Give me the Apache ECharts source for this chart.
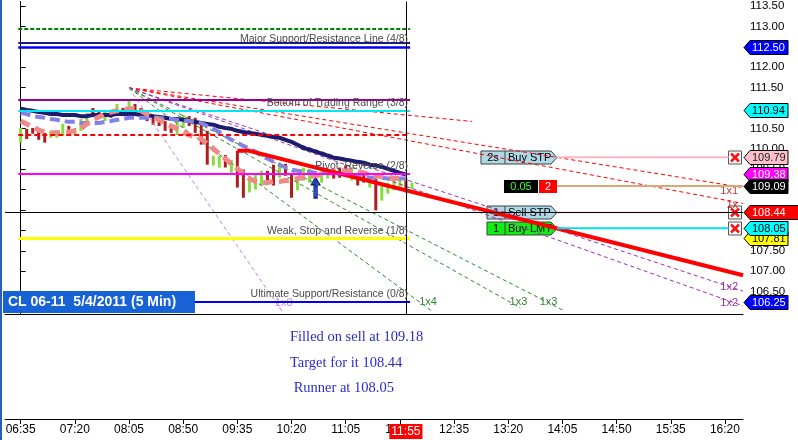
<!DOCTYPE html>
<html>
<head>
<meta charset="utf-8">
<script src="https://cdn.jsdelivr.net/npm/echarts@6/dist/echarts.min.js"></script>
<style>
html,body{margin:0;padding:0;background:#ffffff;}
#chart{width:798px;height:440px;}
</style>
</head>
<body>
<div id="chart"></div>
<script>
// ---------------- data ----------------
const timeLabels = ['06:35','07:20','08:05','08:50','09:35','10:20','11:05','11:50','12:35','13:20','14:05','14:50','15:35','16:20'];
const tickIndex = [0,9,18,27,36,45,54,63,72,81,90,99,108,117];
const currentIndex = 64;
const currentTime = '11:55';
const yTickValues = [106.5,107,107.5,108,108.5,109,109.5,110,110.5,111,111.5,112,112.5,113,113.5];

const barHigh = [110.51,110.49,110.51,110.44,110.39,110.44,110.46,110.61,110.56,110.51,
110.73,110.88,111.00,110.93,110.93,110.93,111.10,111.00,111.17,111.10,
111.00,110.93,110.80,110.76,110.68,110.59,110.71,110.83,110.80,110.76,
110.63,110.44,109.83,109.83,109.85,109.73,109.95,109.49,109.24,109.41,
109.46,109.46,109.61,109.66,109.63,109.39,109.34,109.54,109.51,109.39,
109.46,109.51,109.51,109.54,109.59,109.54,109.39,109.41,109.29,109.27,
109.10,109.17,109.27,109.29,109.27,109.17];
const barLow = [110.15,110.24,110.37,110.22,110.15,110.27,110.27,110.32,110.37,110.34,
110.44,110.56,110.80,110.73,110.68,110.76,110.85,110.80,110.93,110.90,
110.80,110.68,110.59,110.56,110.44,110.39,110.34,110.51,110.56,110.39,
110.10,109.61,109.59,109.54,109.54,109.41,109.05,108.80,108.93,109.00,
109.10,109.22,109.10,109.29,109.34,108.80,108.98,109.22,109.17,109.05,
109.17,109.27,109.27,109.29,109.39,109.22,109.10,109.17,109.05,108.49,
108.73,108.90,108.98,109.05,108.93,109.02];
const barUp = [1,0,0,0,0,1,1,1,0,1,
1,1,0,0,1,0,1,0,1,0,
0,0,0,0,0,0,1,1,0,0,
0,0,1,1,0,1,0,0,1,1,
1,0,0,1,0,0,1,1,1,1,
1,1,0,0,0,1,0,0,1,0,
1,1,1,1,0,1];

const maNavy = [110.98,110.95,110.93,110.90,110.88,110.85,110.85,110.83,110.83,110.83,
110.80,110.80,110.83,110.83,110.83,110.83,110.85,110.85,110.85,110.85,
110.83,110.83,110.80,110.78,110.76,110.73,110.73,110.71,110.68,110.66,
110.63,110.61,110.59,110.54,110.51,110.49,110.44,110.41,110.39,110.37,
110.34,110.32,110.29,110.27,110.22,110.17,110.10,110.02,109.98,109.93,
109.88,109.83,109.78,109.76,109.73,109.71,109.68,109.66,109.61,109.59,
109.56,109.51,109.46,109.41,109.37];
const maLavender = [110.88,110.85,110.80,110.78,110.76,110.73,110.71,110.68,110.66,110.66,
110.63,110.63,110.63,110.63,110.66,110.68,110.71,110.73,110.76,110.76,
110.76,110.76,110.76,110.76,110.73,110.73,110.71,110.68,110.68,110.66,
110.63,110.56,110.49,110.41,110.32,110.22,110.15,110.07,110.00,109.93,
109.83,109.76,109.68,109.61,109.54,109.49,109.46,109.44,109.44,109.41,
109.41,109.41,109.39,109.39,109.37,109.34,109.34,109.32,109.29,109.29,
109.29,109.27,109.27,109.27,109.27];
const maSalmon = [110.68,110.61,110.54,110.46,110.41,110.39,110.39,110.39,110.41,110.44,
110.49,110.61,110.71,110.78,110.85,110.90,110.93,110.95,110.98,110.98,
110.93,110.85,110.78,110.71,110.63,110.56,110.49,110.41,110.34,110.29,
110.24,110.12,110.00,109.88,109.76,109.63,109.51,109.39,109.27,109.20,
109.17,109.17,109.20,109.20,109.22,109.24,109.27,109.29,109.32,109.34,
109.37,109.41,109.44,109.46,109.46,109.46,109.44,109.41,109.37,109.34,
109.32,109.29,109.27,109.27,109.27];

const trendIndex = [36, 38, 120];
const trendPrice = [109.95, 109.95, 106.90];

const levelPrices = [112.94, 112.60, 112.50, 111.19, 110.94, 110.34, 109.38, 107.81, 106.25];
const levelNames = ['', '', 'Major Support/Resistance Line (4/8)', '', 'Bottom of Trading Range (3/8)', '', 'Pivot, Reverse (2/8)', 'Weak, Stop and Reverse (1/8)', 'Ultimate Support/Resistance (0/8)'];

const fanOrigin = [18, 111.49];
const fanEndIndex = [120, 120, 75, 120, 120, 68.5, 83, 90, 43.5];
const fanEndPrice = [109.05, 108.66, 110.67, 106.51, 106.15, 106.00, 106.10, 106.05, 106.00];
const fanNames = ['1x1', '1x', '', '1x2', '1x2', '1x4', '1x3', '1x3', '1x8'];

const orderPrices = [109.79, 109.09, 108.44, 108.05];
const orderQty = ['2s', '0.05', '1', '1'];
const orderType = ['Buy STP', '2', 'Sell STP', 'Buy LMT'];
const stopPrices = [109.79, 108.44, 108.05];
const axisTagPrices = [112.50, 110.94, 109.79, 109.38, 109.09, 108.44, 107.81, 108.05, 106.25];
const signalIndex = [49];
const signalPrice = [109.05];
const crossPrice = 108.44;
const symbolTitle = 'CL 06-11  5/4/2011 (5 Min)';
const notes = ['Filled on sell at 109.18', 'Target for it 108.44', ' Runner at 108.05'];

// ---------------- layout / style ----------------
const Y_MIN = 105.95, Y_MAX = 113.61, X_MIN = -2.6, X_MAX = 120;
const LEVEL_X0 = -0.4, LEVEL_X1 = 64.7, TAG_X = 89.1, STOP_X = 117.6;
const SANS = "'Liberation Sans', Arial, sans-serif";
const NARROW = "'Liberation Sans Narrow', 'Arial Narrow', 'Liberation Sans', sans-serif";
const SERIF = "'Liberation Serif', 'Times New Roman', serif";

const levelStyle = [
  {color:'#008000', width:2, type:[4,2]},
  {color:'#1a1a80', width:2, type:'solid'},
  {color:'#0000ff', width:2.5, type:'solid'},
  {color:'#990099', width:2, type:'solid'},
  {color:'#00e8f0', width:2, type:'solid'},
  {color:'#ff0000', width:2, type:[5,3]},
  {color:'#ff00ff', width:2, type:'solid'},
  {color:'#ffff00', width:3, type:'solid'},
  {color:'#0000ff', width:2, type:'solid'}
];
const fanColor = ['#ff0000','#ff0000','#ff0000','#9b30b0','#9b30b0','#2e8b2e','#2e8b2e','#2e8b2e','#c084e0'];
const fanTextColor = ['#b00000','#b00000','#b00000','#800080','#800080','#006400','#006400','#006400','#b070d0'];
const fanLabelOffset = [[-5,3],[-5,2],[0,0],[-5,-4],[-5,-3],[4,-10],[7,-6],[-5,-8],[10,-9]];
const axisTagStyle = [
  {fill:'#0000ff', text:'#ffffff', w:38},
  {fill:'#00ffff', text:'#000000', w:38},
  {fill:'#ffc0cb', text:'#202020', w:38},
  {fill:'#ff00ff', text:'#ffffff', w:38},
  {fill:'#000000', text:'#ffffff', w:38},
  {fill:'#ff0000', text:'#ffffff', w:49},
  {fill:'#ffff00', text:'#000000', w:38},
  {fill:'#00ffff', text:'#000000', w:38},
  {fill:'#0000ff', text:'#ffffff', w:38}
];
const orderLineStyle = [
  {color:'#ffb6c1', width:2},
  {color:'#d9a877', width:2},
  {color:'#ffb0b8', width:1.5},
  {color:'#00e0f0', width:2}
];

function txt(text, x, y, fill, font, align) {
  return {type:'text', style:{text:text, x:x, y:y, fill:fill, font:font,
    textAlign:align || 'left', align:align || 'left', textVerticalAlign:'middle', verticalAlign:'middle'}};
}

const series = [];

// level lines + crosshair
series.push({
  type:'line', xAxisIndex:0, yAxisIndex:0, data:[], silent:true,
  markLine:{
    silent:true, symbol:['none','none'], animation:false,
    data: levelPrices.map((p,k)=>[
      {coord:[LEVEL_X0, p], lineStyle:levelStyle[k],
       label:{show: !!levelNames[k], formatter: levelNames[k], position:'insideEndTop',
              color:'#4a4a4a', fontSize:10.5, fontFamily:SANS, distance:2}},
      {coord:[LEVEL_X1, p]}
    ]).concat([
      {yAxis: crossPrice, lineStyle:{color:'#000', width:1, type:'solid'}, label:{show:false}},
      {xAxis: currentIndex, lineStyle:{color:'#000', width:1, type:'solid'}, label:{show:false}}
    ])
  }
});

// fan lines
fanEndIndex.forEach((xe,k)=>{
  series.push({
    type:'line', xAxisIndex:0, yAxisIndex:0, symbol:'none', silent:true,
    data:[fanOrigin, [xe, fanEndPrice[k]]],
    lineStyle:{color:fanColor[k], width:1, type:[4,3]}
  });
});
series.push({
  type:'scatter', xAxisIndex:0, yAxisIndex:0, silent:true, symbol:'circle', symbolSize:1,
  itemStyle:{color:'transparent'},
  data: fanEndIndex.map((xe,k)=>({
    value:[xe, fanEndPrice[k]],
    label:{show: !!fanNames[k], formatter: fanNames[k], position:'inside', align:'right',
           verticalAlign:'middle', offset: fanLabelOffset[k], color: fanTextColor[k], fontSize:11, fontFamily:SANS}
  }))
});

// price bars
series.push({
  type:'custom', xAxisIndex:0, yAxisIndex:0, silent:true,
  data: barHigh.map((h,i)=>[i, h, barLow[i], barUp[i]]),
  renderItem:(params, api)=>{
    const top = api.coord([api.value(0), api.value(1)]);
    const bot = api.coord([api.value(0), api.value(2)]);
    return {type:'rect', shape:{x: top[0]-1.5, y: top[1], width:3, height: Math.max(1, bot[1]-top[1])},
      style:{fill: api.value(3) ? '#86dc3c' : '#b01c1c'}};
  }
});

// moving averages
series.push({type:'line', symbol:'none', silent:true, data: maNavy.map((v,i)=>[i,v]),
  lineStyle:{color:'#1c1c6e', width:4}});
series.push({type:'line', symbol:'none', silent:true, data: maLavender.map((v,i)=>[i,v]),
  lineStyle:{color:'#8282e6', width:4, type:[10,5]}});
series.push({type:'line', symbol:'none', silent:true, data: maSalmon.map((v,i)=>[i,v]),
  lineStyle:{color:'#f08888', width:5, type:[10,6]}});

// red trend line
series.push({type:'line', symbol:'none', silent:true, data: trendIndex.map((x,i)=>[x, trendPrice[i]]),
  lineStyle:{color:'#ff0000', width:4}});

// order lines
orderPrices.forEach((p,k)=>{
  series.push({type:'line', symbol:'none', silent:true,
    data:[[TAG_X, p],[k===1 ? X_MAX : STOP_X, p]], lineStyle: orderLineStyle[k]});
});

// order tags
series.push({
  type:'custom', silent:true, clip:false,
  data: orderPrices.map(p=>[TAG_X, p]),
  renderItem:(params, api)=>{
    const k = params.dataIndex;
    const c = api.coord([api.value(0), api.value(1)]);
    const xr = c[0], y = Math.round(c[1]) + 0.5, h = 6.5;
    const f = '11px ' + SANS;
    if (k === 1) {
      return {type:'group', children:[
        {type:'rect', shape:{x:xr-53, y:y-h, width:34, height:2*h}, style:{fill:'#000'}},
        {type:'rect', shape:{x:xr-18, y:y-h, width:18, height:2*h}, style:{fill:'#ff0000'}},
        txt(orderQty[k], xr-36, y+0.5, '#33ff33', f, 'center'),
        txt(orderType[k], xr-9, y+0.5, '#ffffff', f, 'center')
      ]};
    }
    const left = k === 0 ? xr-76 : xr-70;
    const fill = k === 3 ? '#11ee11' : '#add8e6';
    return {type:'group', children:[
      {type:'polygon', shape:{points:[[left,y-h],[xr-6,y-h],[xr,y],[xr-6,y+h],[left,y+h]]},
        style:{fill:fill, stroke:'#404040', lineWidth:1}},
      {type:'line', shape:{x1:xr-52, y1:y-h, x2:xr-52, y2:y+h}, style:{stroke:'#404040', lineWidth:1}},
      txt(orderQty[k], (left + xr-52)/2, y+0.5, '#000', f, 'center'),
      txt(orderType[k], xr-49, y+0.5, '#000', f, 'left')
    ]};
  }
});

// cancel boxes
series.push({
  type:'custom', silent:true, clip:false,
  data: stopPrices.map(p=>[X_MAX, p]),
  renderItem:(params, api)=>{
    const c = api.coord([api.value(0), api.value(1)]);
    const cx = c[0]-8, cy = Math.round(c[1]) + 0.5;
    return {type:'group', children:[
      {type:'rect', shape:{x:cx-6.5, y:cy-6.5, width:13, height:13}, style:{fill:'#fff', stroke:'#555', lineWidth:1}},
      {type:'line', shape:{x1:cx-4, y1:cy-4, x2:cx+4, y2:cy+4}, style:{stroke:'#ff1010', lineWidth:2.5}},
      {type:'line', shape:{x1:cx+4, y1:cy-4, x2:cx-4, y2:cy+4}, style:{stroke:'#ff1010', lineWidth:2.5}}
    ]};
  }
});

// signal arrow
series.push({
  type:'scatter', silent:true,
  data: signalIndex.map((x,i)=>[x, signalPrice[i]]),
  symbol:'path://M5,0 L10,8 L7,8 L7,22 L3,22 L3,8 L0,8 Z', symbolSize:[9,21],
  itemStyle:{color:'#0010e0', borderColor:'#000040', borderWidth:1}
});

// axis price tags
series.push({
  type:'custom', silent:true, clip:false, z:10,
  data: axisTagPrices.map(p=>[X_MAX, p]),
  renderItem:(params, api)=>{
    const k = params.dataIndex, st = axisTagStyle[k];
    const c = api.coord([api.value(0), api.value(1)]);
    const x0 = c[0], y = Math.round(c[1]) + 0.5, h = 7;
    return {type:'group', children:[
      {type:'polygon', shape:{points:[[x0+1,y],[x0+7,y-h],[x0+7+st.w,y-h],[x0+7+st.w,y+h],[x0+7,y+h]]},
        style:{fill:st.fill, stroke:'#000', lineWidth:1}},
      txt(api.value(1).toFixed(2), x0+9, y+0.5, st.text, '11px ' + SANS, 'left')
    ]};
  }
});

const option = {
  animation:false,
  backgroundColor:'#ffffff',
  grid:[
    {left:5, right:55, top:0, bottom:126},
    {left:5, right:55, top:314, bottom:21}
  ],
  xAxis:[
    {gridIndex:0, type:'value', min:X_MIN, max:X_MAX,
     axisLine:{show:true, onZero:false, lineStyle:{color:'#000', width:1}},
     axisTick:{show:false}, axisLabel:{show:false}, splitLine:{show:false}},
    {gridIndex:1, type:'value', min:X_MIN, max:X_MAX,
     axisLine:{show:true, onZero:false, lineStyle:{color:'#000', width:1}},
     axisTick:{show:true, length:5, customValues: tickIndex, lineStyle:{color:'#000'}},
     axisLabel:{show:true, customValues: tickIndex.concat([currentIndex]), margin:5,
       color:'#000', fontSize:12, fontFamily:NARROW,
       formatter:(v)=> v === currentIndex ? '{hl|' + currentTime + '}' : timeLabels[tickIndex.indexOf(v)],
       rich:{hl:{backgroundColor:'#ff0000', color:'#ffffff', fontSize:12, fontFamily:NARROW, padding:[2,2,1,2]}}},
     splitLine:{show:false}}
  ],
  yAxis:[
    {gridIndex:0, type:'value', position:'right', min:Y_MIN, max:Y_MAX,
     axisLine:{show:true, lineStyle:{color:'#000', width:1}},
     axisTick:{show:true, length:5, customValues: yTickValues, lineStyle:{color:'#000'}},
     axisLabel:{show:true, customValues: yTickValues, formatter:(v)=>v.toFixed(2),
       color:'#000', fontSize:11.5, fontFamily:SANS, margin:7},
     splitLine:{show:false}},
    {gridIndex:1, type:'value', min:0, max:1, show:false}
  ],
  series: series,
  graphic:[
    {type:'rect', z:100, shape:{x:0, y:0, width:2, height:440}, style:{fill:'#2a5fb8'}},
    {type:'rect', z:100, shape:{x:3, y:291, width:192, height:22}, style:{fill:'#1763d6'}},
    {type:'text', z:101, style:{text:symbolTitle, x:8, y:302.5, fill:'#ffffff', font:'bold 14px ' + SANS,
      textVerticalAlign:'middle', verticalAlign:'middle'}},
    {type:'text', z:101, style:{text:notes[0], x:290, y:337, fill:'#2b2bcc', font:'14.5px ' + SERIF, textVerticalAlign:'middle', verticalAlign:'middle'}},
    {type:'text', z:101, style:{text:notes[1], x:290, y:363, fill:'#2b2bcc', font:'14.5px ' + SERIF, textVerticalAlign:'middle', verticalAlign:'middle'}},
    {type:'text', z:101, style:{text:notes[2], x:290, y:388, fill:'#2b2bcc', font:'14.5px ' + SERIF, textVerticalAlign:'middle', verticalAlign:'middle'}}
  ]
};

const chart = echarts.init(document.getElementById('chart'), null, {renderer:'canvas'});
chart.setOption(option);
</script>
</body>
</html>
